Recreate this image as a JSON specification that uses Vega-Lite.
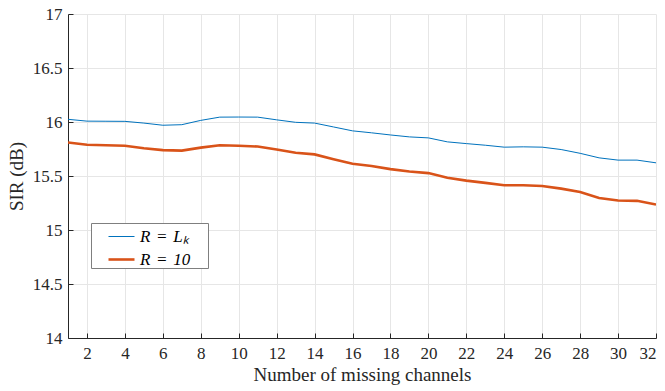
{
  "$schema": "https://vega.github.io/schema/vega-lite/v6.json",
  "width": 588,
  "height": 324,
  "autosize": {"type": "none"},
  "padding": {"left": 68, "top": 14, "right": 9, "bottom": 53},
  "background": "white",
  "config": {
    "font": "Liberation Serif",
    "view": {"stroke": null},
    "axis": {
      "labelFont": "Liberation Serif",
      "titleFont": "Liberation Serif",
      "labelFontSize": 17,
      "titleFontSize": 19,
      "titleFontWeight": "normal",
      "labelColor": "#262626",
      "titleColor": "#262626",
      "domainColor": "#262626",
      "tickColor": "#262626",
      "gridColor": "#e6e6e6",
      "gridWidth": 1
    },
    "legend": {"labelFont": "Liberation Serif"}
  },
  "data": {
    "values": [
      {"n": 1, "s": "R = Lₖ", "sir": 16.025},
      {"n": 2, "s": "R = Lₖ", "sir": 16.008},
      {"n": 3, "s": "R = Lₖ", "sir": 16.007},
      {"n": 4, "s": "R = Lₖ", "sir": 16.006},
      {"n": 5, "s": "R = Lₖ", "sir": 15.99},
      {"n": 6, "s": "R = Lₖ", "sir": 15.97},
      {"n": 7, "s": "R = Lₖ", "sir": 15.975},
      {"n": 8, "s": "R = Lₖ", "sir": 16.015},
      {"n": 9, "s": "R = Lₖ", "sir": 16.045},
      {"n": 10, "s": "R = Lₖ", "sir": 16.046},
      {"n": 11, "s": "R = Lₖ", "sir": 16.045},
      {"n": 12, "s": "R = Lₖ", "sir": 16.02},
      {"n": 13, "s": "R = Lₖ", "sir": 15.997},
      {"n": 14, "s": "R = Lₖ", "sir": 15.99},
      {"n": 15, "s": "R = Lₖ", "sir": 15.954},
      {"n": 16, "s": "R = Lₖ", "sir": 15.918},
      {"n": 17, "s": "R = Lₖ", "sir": 15.9},
      {"n": 18, "s": "R = Lₖ", "sir": 15.88},
      {"n": 19, "s": "R = Lₖ", "sir": 15.862},
      {"n": 20, "s": "R = Lₖ", "sir": 15.853},
      {"n": 21, "s": "R = Lₖ", "sir": 15.816},
      {"n": 22, "s": "R = Lₖ", "sir": 15.8},
      {"n": 23, "s": "R = Lₖ", "sir": 15.785},
      {"n": 24, "s": "R = Lₖ", "sir": 15.767},
      {"n": 25, "s": "R = Lₖ", "sir": 15.77},
      {"n": 26, "s": "R = Lₖ", "sir": 15.767},
      {"n": 27, "s": "R = Lₖ", "sir": 15.745},
      {"n": 28, "s": "R = Lₖ", "sir": 15.71},
      {"n": 29, "s": "R = Lₖ", "sir": 15.668},
      {"n": 30, "s": "R = Lₖ", "sir": 15.647},
      {"n": 31, "s": "R = Lₖ", "sir": 15.647},
      {"n": 32, "s": "R = Lₖ", "sir": 15.622},
      {"n": 1, "s": "R = 10", "sir": 15.81},
      {"n": 2, "s": "R = 10", "sir": 15.79},
      {"n": 3, "s": "R = 10", "sir": 15.785},
      {"n": 4, "s": "R = 10", "sir": 15.78},
      {"n": 5, "s": "R = 10", "sir": 15.757},
      {"n": 6, "s": "R = 10", "sir": 15.74},
      {"n": 7, "s": "R = 10", "sir": 15.735},
      {"n": 8, "s": "R = 10", "sir": 15.763},
      {"n": 9, "s": "R = 10", "sir": 15.785},
      {"n": 10, "s": "R = 10", "sir": 15.78},
      {"n": 11, "s": "R = 10", "sir": 15.773},
      {"n": 12, "s": "R = 10", "sir": 15.746},
      {"n": 13, "s": "R = 10", "sir": 15.715},
      {"n": 14, "s": "R = 10", "sir": 15.7},
      {"n": 15, "s": "R = 10", "sir": 15.656},
      {"n": 16, "s": "R = 10", "sir": 15.614},
      {"n": 17, "s": "R = 10", "sir": 15.592},
      {"n": 18, "s": "R = 10", "sir": 15.564},
      {"n": 19, "s": "R = 10", "sir": 15.542},
      {"n": 20, "s": "R = 10", "sir": 15.527},
      {"n": 21, "s": "R = 10", "sir": 15.484},
      {"n": 22, "s": "R = 10", "sir": 15.457},
      {"n": 23, "s": "R = 10", "sir": 15.436},
      {"n": 24, "s": "R = 10", "sir": 15.414},
      {"n": 25, "s": "R = 10", "sir": 15.414},
      {"n": 26, "s": "R = 10", "sir": 15.408},
      {"n": 27, "s": "R = 10", "sir": 15.383},
      {"n": 28, "s": "R = 10", "sir": 15.352},
      {"n": 29, "s": "R = 10", "sir": 15.297},
      {"n": 30, "s": "R = 10", "sir": 15.273},
      {"n": 31, "s": "R = 10", "sir": 15.27},
      {"n": 32, "s": "R = 10", "sir": 15.236}
    ]
  },
  "mark": {"type": "line", "clip": true},
  "encoding": {
    "x": {
      "field": "n",
      "type": "quantitative",
      "scale": {"domain": [1, 32], "nice": false, "zero": false},
      "axis": {
        "title": "Number of missing channels",
        "values": [2, 4, 6, 8, 10, 12, 14, 16, 18, 20, 22, 24, 26, 28, 30, 32],
        "format": "d",
        "labelFont": "Liberation Serif",
        "tickSize": -5,
        "labelPadding": 12,
        "titlePadding": 4
      }
    },
    "y": {
      "field": "sir",
      "type": "quantitative",
      "scale": {"domain": [14, 17], "nice": false, "zero": false},
      "axis": {
        "title": "SIR (dB)",
        "values": [14, 14.5, 15, 15.5, 16, 16.5, 17],
        "format": "~g",
        "labelFont": "Liberation Serif",
        "tickSize": -5,
        "labelPadding": 11,
        "titlePadding": 6
      }
    },
    "color": {
      "field": "s",
      "type": "nominal",
      "scale": {"domain": ["R = Lₖ", "R = 10"], "range": ["#0072BD", "#D95319"]},
      "legend": {
        "title": null,
        "orient": "none",
        "legendX": 23,
        "legendY": 209,
        "symbolType": "stroke",
        "symbolSize": 676,
        "labelFont": "Liberation Serif",
        "labelFontStyle": "italic",
        "labelFontSize": 17,
        "labelColor": "#000000",
        "labelOffset": 4,
        "labelExpr": "replace(datum.label, / /g, '\u2004') + '\u2003\u200b'",
        "labelLimit": 300,
        "strokeColor": "#7f7f7f",
        "fillColor": "white",
        "padding": 0,
        "rowPadding": -4,
        "symbolOffset": 16
      }
    },
    "strokeWidth": {
      "field": "s",
      "type": "nominal",
      "scale": {"domain": ["R = Lₖ", "R = 10"], "range": [1, 2.6]},
      "legend": null
    }
  }
}
